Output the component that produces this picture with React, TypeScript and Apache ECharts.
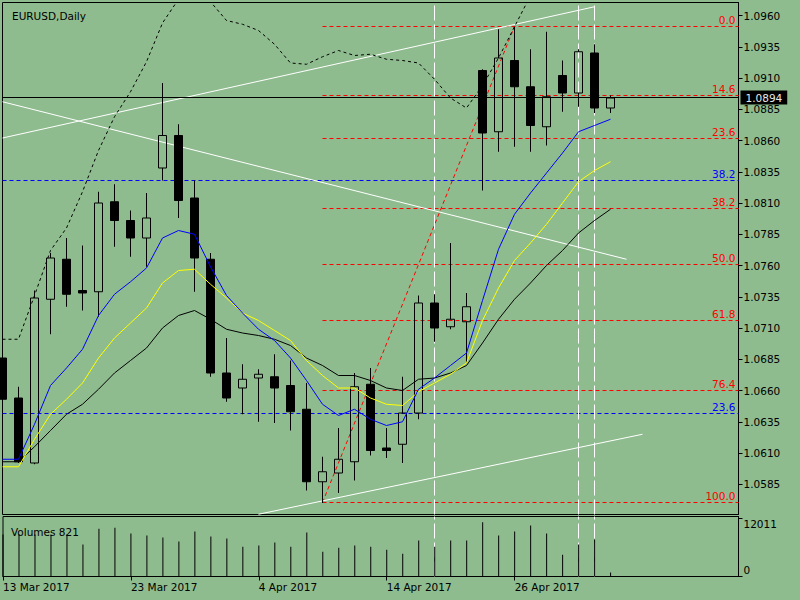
import React, { useEffect, useRef } from 'react';
import * as echarts from 'echarts';

const DATES = [
  '13 Mar 2017', '14 Mar 2017', '15 Mar 2017', '16 Mar 2017', '17 Mar 2017',
  '20 Mar 2017', '21 Mar 2017', '22 Mar 2017', '23 Mar 2017', '24 Mar 2017',
  '27 Mar 2017', '28 Mar 2017', '29 Mar 2017', '30 Mar 2017', '31 Mar 2017',
  '3 Apr 2017', '4 Apr 2017', '5 Apr 2017', '6 Apr 2017', '7 Apr 2017',
  '10 Apr 2017', '11 Apr 2017', '12 Apr 2017', '13 Apr 2017', '14 Apr 2017',
  '17 Apr 2017', '18 Apr 2017', '19 Apr 2017', '20 Apr 2017', '21 Apr 2017',
  '24 Apr 2017', '25 Apr 2017', '26 Apr 2017', '27 Apr 2017', '28 Apr 2017',
  '1 May 2017', '2 May 2017', '3 May 2017', '4 May 2017',
];
const EMPTY_SLOTS = ['+1', '+2', '+3', '+4', '+5', '+6', '+7', '+8'];

const OPEN = [1.0686, 1.0654, 1.0602, 1.0733, 1.0765, 1.0740, 1.0739, 1.0811, 1.0796, 1.0782, 1.0838, 1.0864, 1.0814, 1.0765, 1.0674, 1.0662, 1.0670, 1.0671, 1.0664, 1.0645, 1.0587, 1.0594, 1.0603, 1.0665, 1.0614, 1.0617, 1.0642, 1.0730, 1.0711, 1.0715, 1.0916, 1.0867, 1.0924, 1.0903, 1.0871, 1.0912, 1.0898, 1.0930, 1.0886];
const HIGH = [1.0692, 1.0663, 1.0740, 1.0770, 1.0782, 1.0776, 1.0819, 1.0825, 1.0804, 1.0818, 1.0906, 1.0873, 1.0828, 1.0770, 1.0702, 1.0681, 1.0677, 1.0689, 1.0684, 1.0666, 1.0607, 1.0630, 1.0674, 1.0678, 1.0630, 1.0671, 1.0736, 1.0737, 1.0778, 1.0738, 1.0917, 1.0949, 1.0951, 1.0933, 1.0947, 1.0924, 1.0933, 1.0937, 1.0896];
const LOW = [1.0652, 1.0602, 1.0601, 1.0705, 1.0727, 1.0724, 1.0719, 1.0775, 1.0767, 1.0759, 1.0828, 1.0798, 1.0739, 1.0671, 1.0651, 1.0641, 1.0635, 1.0634, 1.0628, 1.0580, 1.0570, 1.0578, 1.0588, 1.0608, 1.0606, 1.0602, 1.0637, 1.0699, 1.0709, 1.0682, 1.0820, 1.0851, 1.0855, 1.0851, 1.0856, 1.0883, 1.0887, 1.0882, 1.0882];
const CLOSE = [1.0653, 1.0603, 1.0734, 1.0766, 1.0737, 1.0738, 1.0810, 1.0796, 1.0782, 1.0798, 1.0864, 1.0812, 1.0766, 1.0674, 1.0654, 1.0669, 1.0673, 1.0662, 1.0643, 1.0587, 1.0595, 1.0605, 1.0663, 1.0612, 1.0612, 1.0642, 1.0730, 1.0710, 1.0717, 1.0727, 1.0866, 1.0926, 1.0903, 1.0872, 1.0895, 1.0898, 1.0931, 1.0886, 1.0894];

const VOLUMES = [8600, 8650, 8600, 8620, 8640, 6550, 9810, 10020, 8830, 8420, 8000, 7170, 9250, 8210, 7790, 6130, 6340, 6960, 6130, 9040, 5090, 5920, 6340, 6130, 5510, 4680, 7380, 6130, 7380, 7380, 11120, 8420, 9250, 10490, 8830, 4470, 6550, 7590, 821];

const MA_BLUE = [1.0605, 1.0605, 1.0633, 1.0664, 1.0678, 1.0693, 1.0720, 1.0737, 1.0747, 1.0758, 1.0782, 1.0788, 1.0785, 1.0759, 1.0736, 1.0722, 1.0709, 1.0700, 1.0686, 1.0668, 1.0649, 1.0640, 1.0645, 1.0637, 1.0632, 1.0635, 1.0661, 1.0670, 1.0680, 1.0690, 1.0732, 1.0773, 1.0801, 1.0818, 1.0834, 1.0850, 1.0867, 1.0872, 1.0877];
const MA_YELLOW = [1.0599, 1.0599, 1.0621, 1.0641, 1.0653, 1.0666, 1.0686, 1.0702, 1.0714, 1.0726, 1.0746, 1.0756, 1.0757, 1.0745, 1.0734, 1.0722, 1.0716, 1.0708, 1.0700, 1.0684, 1.0672, 1.0662, 1.0662, 1.0654, 1.0649, 1.0648, 1.0659, 1.0666, 1.0673, 1.0682, 1.0716, 1.0742, 1.0764, 1.0778, 1.0793, 1.0810, 1.0827, 1.0836, 1.0843];
const MA_BLACK = [1.0603, 1.0603, 1.0615, 1.0628, 1.0641, 1.0649, 1.0661, 1.0674, 1.0684, 1.0694, 1.0710, 1.0720, 1.0724, 1.0717, 1.0709, 1.0706, 1.0704, 1.0701, 1.0696, 1.0686, 1.0680, 1.0672, 1.0672, 1.0668, 1.0662, 1.0660, 1.0669, 1.0670, 1.0674, 1.0680, 1.0698, 1.0717, 1.0733, 1.0746, 1.0760, 1.0772, 1.0786, 1.0796, 1.0805];
const UPPER_BAND = [1.0701, 1.0701, 1.0736, 1.0772, 1.0790, 1.0819, 1.0852, 1.0879, 1.0899, 1.0923, 1.0954, 1.0973, 1.0977, 1.0971, 1.0956, 1.0953, 1.0948, 1.0937, 1.0922, 1.0921, 1.0927, 1.0932, 1.0928, 1.0929, 1.0925, 1.0924, 1.0922, 1.0909, 1.0894, 1.0886, 1.0904, 1.0926, 1.0951, 1.0976, null, null, null, null, null];

const PRICE_TICKS = [1.0585, 1.0610, 1.0635, 1.0660, 1.0685, 1.0710, 1.0735, 1.0760, 1.0785, 1.0810, 1.0835, 1.0860, 1.0885, 1.0910, 1.0935, 1.0960];
const PRICE_MIN = 1.05608;
const PRICE_MAX = 1.09704;
const VOLUME_TICKS = [0, 12011];

const FIB_LABELS = ['0.0', '14.6', '23.6', '38.2', '50.0', '61.8', '76.4', '100.0'];
const FIB_PRICES = [1.09512, 1.0896, 1.08616, 1.08056, 1.07608, 1.0716, 1.066, 1.05704];
const FIB_FROM = 20;
const BLUE_FIB_LABELS = ['38.2', '23.6'];
const BLUE_FIB_PRICES = [1.0828, 1.06416];
const FIB_DIAGONAL = [[20, 1.05704], [32, 1.09512]];
const TRENDLINES = [
  [[0, 1.0862], [37, 1.0967]],
  [[0, 1.0891], [39, 1.0765]],
  [[16, 1.0561], [40, 1.0625]],
];
const VERTICAL_LINES = ['19 Apr 2017', '2 May 2017', '3 May 2017'];
const BID = 1.08944;
const SYMBOL = 'EURUSD,Daily';
const VOLUME_TITLE = 'Volumes 821';

const BG = '#8fbc8f';
const FONT = 'DejaVu Sans';
const FS = 10.5;

export default function App() {
  const ref = useRef<HTMLDivElement>(null);

  useEffect(() => {
    const chart = echarts.init(ref.current!, null, { renderer: 'svg' });
    const cats = [...DATES, ...EMPTY_SLOTS];
    const last = cats.length - 1;
    const candles = DATES.map((_, i) => [OPEN[i], CLOSE[i], LOW[i], HIGH[i]]);

    const baseMark = {
      z: 1, silent: true, symbol: ['none', 'none'], animation: false, precision: 5,
      emphasis: { disabled: true },
    };
    const fibLabel = (color: string) => ({
      show: true, position: 'insideEndTop', color, fontFamily: FONT, fontSize: FS, distance: [3, 1.5],
    });

    const redLines: any[] = FIB_PRICES.map((p, i) => [
      { coord: [FIB_FROM, p], label: { ...fibLabel('#ff0000'), formatter: FIB_LABELS[i] } },
      { coord: [last, p] },
    ]);
    redLines.push([{ coord: FIB_DIAGONAL[0], label: { show: false } }, { coord: FIB_DIAGONAL[1] }]);

    const blueLines: any[] = BLUE_FIB_PRICES.map((p, i) => [
      { coord: [0, p], label: { ...fibLabel('#0000ff'), formatter: BLUE_FIB_LABELS[i] } },
      { coord: [last, p] },
    ]);

    const whiteLines: any[] = TRENDLINES.map((t) => [{ coord: t[0] }, { coord: t[1] }]);

    const dummy = (extra: any) => ({
      type: 'line', xAxisIndex: 0, yAxisIndex: 0, data: [], symbol: 'none', z: 1, silent: true,
      ...extra,
    });

    const option: any = {
      animation: false,
      backgroundColor: BG,
      textStyle: { fontFamily: FONT },
      title: [
        { text: SYMBOL, left: 7, top: 5, textStyle: { fontFamily: FONT, fontSize: FS, fontWeight: 'normal', color: '#000' } },
        { text: VOLUME_TITLE, left: 6, top: 521, textStyle: { fontFamily: FONT, fontSize: FS, fontWeight: 'normal', color: '#000' } },
      ],
      grid: [
        { left: 2.5, top: 2.5, width: 736, height: 512, show: true, borderColor: '#000', borderWidth: 1, backgroundColor: 'transparent' },
        { left: 2.5, top: 516.5, width: 736, height: 60, show: true, borderColor: '#000', borderWidth: 1, backgroundColor: 'transparent' },
      ],
      xAxis: [
        { type: 'category', gridIndex: 0, data: cats, boundaryGap: false, show: false },
        {
          type: 'category', gridIndex: 1, data: cats, boundaryGap: false,
          axisLine: { show: true, lineStyle: { color: '#000', width: 1 } },
          axisTick: { show: true, length: 4, lineStyle: { color: '#000' }, interval: (i: number) => i % 8 === 0 && i < DATES.length },
          axisLabel: {
            show: true, interval: (i: number) => i % 8 === 0 && i < DATES.length,
            align: 'left', margin: 5, color: '#000', fontFamily: FONT, fontSize: FS,
          },
          splitLine: { show: false },
        },
      ],
      yAxis: [
        {
          type: 'value', gridIndex: 0, position: 'right', min: PRICE_MIN, max: PRICE_MAX, scale: true,
          axisLine: { show: true, lineStyle: { color: '#000' } },
          axisTick: { show: true, length: 4, lineStyle: { color: '#000' }, customValues: PRICE_TICKS },
          axisLabel: {
            show: true, customValues: PRICE_TICKS, margin: 5, color: '#000', fontFamily: FONT, fontSize: FS,
            formatter: (v: number) => v.toFixed(4),
          },
          splitLine: { show: false },
        },
        {
          type: 'value', gridIndex: 1, position: 'right', min: 0, max: 12320,
          axisLine: { show: true, lineStyle: { color: '#000' } },
          axisTick: { show: true, length: 4, lineStyle: { color: '#000' }, customValues: VOLUME_TICKS },
          axisLabel: {
            show: true, customValues: VOLUME_TICKS, margin: 5, color: '#000', fontFamily: FONT, fontSize: FS,
            formatter: (v: number) => (v === 0 ? '{b|0}' : '{t|' + v + '}'),
            rich: {
              t: { padding: [11, 0, 0, 0], fontFamily: FONT, fontSize: FS, color: '#000' },
              b: { padding: [0, 0, 13, 0], fontFamily: FONT, fontSize: FS, color: '#000' },
            },
          },
          splitLine: { show: false },
        },
      ],
      series: [
        dummy({
          name: 'fibRed', color: '#ff0000',
          markLine: { ...baseMark, lineStyle: { color: '#ff0000', width: 1, type: [4, 3] }, label: { show: false }, data: redLines },
        }),
        dummy({
          name: 'fibBlue', color: '#0000ff',
          markLine: { ...baseMark, lineStyle: { color: '#0000ff', width: 1, type: [4, 3] }, label: { show: false }, data: blueLines },
        }),
        dummy({
          name: 'trend', color: '#ffffff',
          markLine: { ...baseMark, lineStyle: { color: '#ffffff', width: 1, type: 'solid' }, label: { show: false }, data: whiteLines },
        }),
        dummy({
          name: 'vlines', color: '#ffffff',
          markLine: {
            ...baseMark, lineStyle: { color: '#ffffff', width: 1, type: [15, 4] }, label: { show: false },
            data: VERTICAL_LINES.map((d) => ({ xAxis: d })),
          },
        }),
        {
          type: 'candlestick', xAxisIndex: 0, yAxisIndex: 0, data: candles, barWidth: 9, z: 2, clip: true,
          itemStyle: { color: 'rgba(0,0,0,0)', color0: '#000', borderColor: '#000', borderColor0: '#000', borderWidth: 1 },
        },
        { type: 'line', xAxisIndex: 0, yAxisIndex: 0, data: UPPER_BAND, symbol: 'none', z: 3, lineStyle: { color: '#000', width: 1, type: [3, 3] } },
        { type: 'line', xAxisIndex: 0, yAxisIndex: 0, data: MA_BLACK, symbol: 'none', z: 3, lineStyle: { color: '#000', width: 1 } },
        { type: 'line', xAxisIndex: 0, yAxisIndex: 0, data: MA_YELLOW, symbol: 'none', z: 3, lineStyle: { color: '#ffff00', width: 1 } },
        {
          type: 'line', xAxisIndex: 0, yAxisIndex: 0, data: MA_BLUE, symbol: 'none', z: 3, lineStyle: { color: '#0000ff', width: 1 },
          markLine: {
            z: 4, silent: true, symbol: ['none', 'none'], animation: false, precision: 5, emphasis: { disabled: true },
            lineStyle: { color: '#000', width: 1, type: 'solid' },
            label: {
              show: true, position: 'end', distance: 2, formatter: BID.toFixed(4),
              backgroundColor: '#000', color: '#e8e8e8', padding: [1, 5, 0, 5], fontFamily: FONT, fontSize: FS, lineHeight: 13,
            },
            data: [{ yAxis: BID }],
          },
        },
        {
          type: 'bar', xAxisIndex: 1, yAxisIndex: 1, data: VOLUMES, barWidth: 1, z: 2,
          itemStyle: { color: '#000' },
          markLine: {
            ...baseMark, lineStyle: { color: '#ffffff', width: 1, type: [15, 4] }, label: { show: false },
            data: VERTICAL_LINES.map((d) => ({ xAxis: d })),
          },
        },
      ],
    };
    chart.setOption(option);
    return () => chart.dispose();
  }, []);

  return (
    <div
      ref={ref}
      style={{ position: 'fixed', left: 0, top: 0, width: 800, height: 600, background: BG }}
    />
  );
}
